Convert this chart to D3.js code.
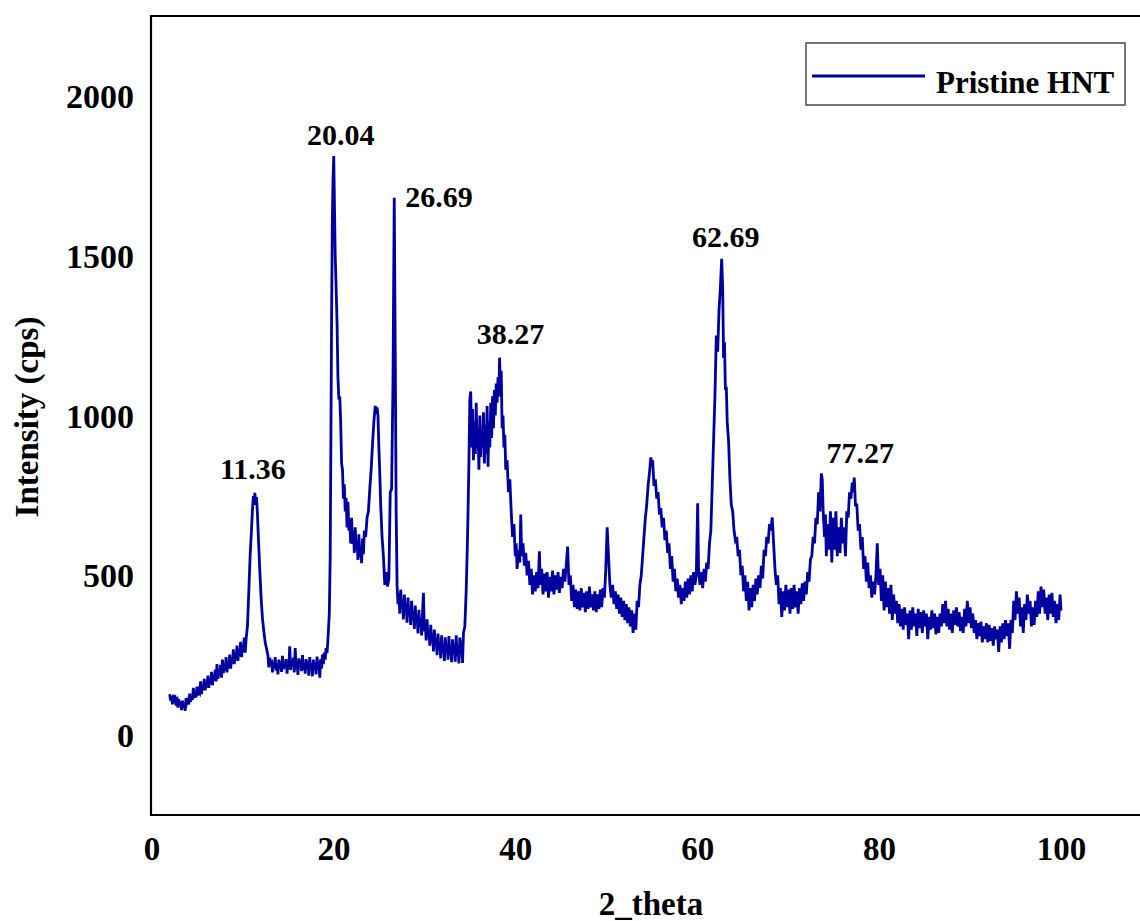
<!DOCTYPE html>
<html>
<head>
<meta charset="utf-8">
<script src="https://cdn.jsdelivr.net/npm/d3@7"></script>
<style>
  html, body { margin: 0; padding: 0; background: #fff; }
  svg { display: block; }
  text { font-family: "Liberation Serif", "Times New Roman", serif; font-weight: bold; fill: #000; }
</style>
</head>
<body>
<svg id="chart" width="1140" height="921"></svg>
<script>
// XRD scan of pristine halloysite nanotubes: [2θ (deg), intensity (cps)]
const scanLow = [
  [2.0,128],[2.1,108],[2.2,122],[2.3,96],[2.4,126],[2.5,110],[2.6,115],[2.7,92],[2.8,120],[2.9,86],
  [3.0,112],[3.1,94],[3.2,104],[3.3,78],[3.4,108],[3.5,84],[3.6,98],[3.7,76],[3.8,116],[3.9,100],
  [4.0,108],[4.1,96],[4.2,130],[4.3,104],[4.4,122],[4.5,110],[4.6,148],[4.7,116],[4.8,132],[4.9,118],
  [5.0,152],[5.1,124],[5.2,140],[5.3,134],[5.4,168],[5.5,128],[5.6,150],[5.7,142],[5.8,176],[5.9,140],
  [6.0,162],[6.1,150],[6.2,186],[6.3,148],[6.4,172],[6.5,160],[6.6,198],[6.7,156],[6.8,184],[6.9,172],
  [7.0,204],[7.1,168],[7.2,222],[7.3,176],[7.4,196],[7.5,188],[7.6,220],[7.7,180],[7.8,236],[7.9,194],
  [8.0,214],[8.1,202],[8.2,244],[8.3,196],[8.4,226],[8.5,210],[8.6,252],[8.7,208],[8.8,238],[8.9,224],
  [9.0,268],[9.1,222],[9.2,250],[9.3,236],[9.4,280],[9.5,232],[9.6,262],[9.7,248],[9.8,292],[9.9,244],
  [10.0,276],[10.1,262],[10.2,305],[10.3,258],[10.4,300],[10.55,340],[10.7,450],[10.85,565],[11.0,645],[11.1,705],
  [11.2,748],[11.28,720],[11.36,758],[11.45,728],[11.55,745],[11.65,690],[11.75,620],[11.9,520],[12.05,430],[12.2,365],
  [12.35,325],[12.5,290],[12.65,270],[12.8,250],[12.9,212],[13.0,242],[13.1,218],[13.2,236],[13.3,196],[13.4,228],
  [13.5,210],[13.6,244],[13.7,202],[13.8,222],[13.9,190],[14.0,236],[14.1,214],[14.2,230],[14.3,198],[14.4,248],
  [14.5,206],[14.6,224],[14.7,212],[14.8,238],[14.9,192],[15.0,226],[15.1,208],[15.2,278],[15.3,204],[15.4,232],
  [15.5,216],[15.6,242],[15.7,196],[15.8,272],[15.9,210],[16.0,228],[16.1,188],[16.2,240],[16.3,214],[16.4,234],
  [16.5,200],[16.6,250],[16.7,204],[16.8,226],[16.9,192],[17.0,238],[17.1,210],[17.2,230],[17.3,186],[17.4,244],
  [17.5,206],[17.6,224],[17.7,184],[17.8,236],[17.9,212],[18.0,228],[18.1,190],[18.2,246],[18.3,204],[18.4,230],
  [18.5,180],[18.6,238],[18.7,208],[18.8,252],[18.9,222],[19.0,258],[19.1,236],[19.2,272],[19.3,256],[19.4,300]
];

const scanMid = [
  [19.55,380],[19.65,560],[19.72,900],[19.8,1300],[19.88,1600],[19.96,1740],[20.04,1812],[20.12,1650],[20.2,1500],[20.3,1400],
  [20.4,1290],[20.5,1120],[20.6,1050],[20.7,1060],[20.8,980],[20.9,850],[21.0,830],[21.1,740],[21.2,785],[21.3,700],
  [21.4,742],[21.5,650],[21.6,730],[21.7,640],[21.8,672],[21.9,600],[22.0,680],[22.1,598],[22.2,640],[22.3,570],
  [22.4,650],[22.5,580],[22.6,610],[22.7,548],[22.8,628],[22.9,556],[23.0,590],[23.1,538],[23.2,615],[23.3,566],
  [23.4,640],[23.55,620],[23.7,680],[23.85,700],[24.0,770],[24.15,830],[24.3,910],[24.45,980],[24.6,1030],[24.7,1005],
  [24.8,1025],[24.9,1000],[25.0,900],[25.1,820],[25.2,720],[25.35,620],[25.5,560],[25.65,470],[25.8,510],[25.95,465],
  [26.1,490],[26.25,760],[26.4,770],[26.55,1100],[26.69,1681],[26.8,1200],[26.9,700],[27.0,470],[27.1,410],[27.2,445],
  [27.3,380],[27.4,455],[27.5,395],[27.6,420],[27.7,362],[27.8,440],[27.9,385],[28.0,410],[28.1,352],[28.2,430],
  [28.3,372],[28.4,398],[28.5,345],[28.6,420],[28.7,360],[28.8,388],[28.9,332],[29.0,405],[29.1,350],[29.2,376],
  [29.3,318],[29.4,392],[29.5,340],[29.6,366],[29.7,312],[29.8,380],[29.9,445],[30.0,325],[30.1,350],[30.2,296],
  [30.3,362],[30.4,305],[30.5,332],[30.6,280],[30.7,345],[30.8,290],[30.9,318],[31.0,262],[31.1,330],[31.2,276],
  [31.3,300],[31.4,250],[31.5,318],[31.6,268],[31.7,290],[31.8,240],[31.9,312],[32.0,258],[32.1,284],[32.2,232],
  [32.3,306],[32.4,262],[32.5,280],[32.6,236],[32.7,310],[32.8,250],[32.9,278],[33.0,228],[33.1,300],[33.2,256],
  [33.3,286],[33.4,230],[33.5,312],[33.6,248],[33.7,280],[33.8,224],[33.9,305],[34.0,252],[34.1,296],[34.2,226],
  [34.3,320],[34.45,340],[34.6,450],[34.75,620],[34.9,850],[35.0,1050],[35.1,1075],[35.2,900],[35.3,1020],[35.4,860],
  [35.5,980],[35.6,880],[35.7,1040],[35.8,900],[35.9,960],[36.0,830],[36.1,1000],[36.2,870],[36.3,950],[36.4,900],
  [36.5,1010],[36.6,850],[36.7,970],[36.8,880],[36.9,1030],[37.0,840],[37.1,980],[37.2,900],[37.3,1040],[37.4,930],
  [37.5,1060],[37.6,960],[37.7,1080],[37.8,1000],[37.9,1100],[38.0,1040],[38.1,1120],[38.2,1060],[38.27,1181],[38.35,1100],
  [38.45,1140],[38.55,960],[38.65,1000],[38.75,900],[38.85,940],[38.95,830],[39.1,860],[39.25,760],[39.4,800],[39.55,700],
  [39.7,620],[39.85,660],[40.0,560],[40.1,600],[40.2,520],[40.35,580],[40.5,540],[40.6,690],[40.7,560],[40.85,600],
  [41.0,530],[41.15,570],[41.3,500],[41.45,545],[41.6,470],[41.75,520],[41.9,440],[42.05,500],[42.2,450],[42.35,510],
  [42.5,460],[42.65,575],[42.75,470],[42.9,520],[43.05,440],[43.2,505],[43.35,450],[43.5,510],[43.65,430],[43.8,495],
  [43.95,450],[44.1,515],[44.25,440],[44.4,500],[44.55,455],[44.7,510],[44.85,445],[45.0,495],[45.15,460],[45.3,520],
  [45.45,480],[45.6,530],[45.75,590],[45.9,470],[46.05,500],[46.2,420],[46.35,470],[46.5,400],[46.65,455],[46.8,395],
  [46.95,450],[47.1,390],[47.25,460],[47.4,400],[47.55,445],[47.7,385],[47.85,450],[48.0,395],[48.15,465],[48.3,400],
  [48.45,440],[48.6,390],[48.75,450],[48.9,385],[49.05,440],[49.2,395],[49.35,455],[49.5,400],[49.65,460],[49.8,430]
];

const scanHigh = [
  [49.95,520],[50.1,650],[50.25,560],[50.4,470],[50.55,430],[50.7,470],[50.85,410],[51.0,450],[51.15,395],[51.3,440],
  [51.45,380],[51.6,430],[51.75,370],[51.9,420],[52.05,360],[52.2,410],[52.35,350],[52.5,400],[52.65,340],[52.8,390],
  [52.95,320],[53.1,380],[53.25,330],[53.4,420],[53.55,400],[53.7,470],[53.85,500],[54.0,560],[54.15,620],[54.3,680],
  [54.45,720],[54.6,780],[54.75,820],[54.9,869],[55.0,850],[55.1,860],[55.25,780],[55.4,800],[55.55,740],[55.7,760],
  [55.85,690],[56.0,710],[56.15,650],[56.3,680],[56.45,610],[56.6,640],[56.75,570],[56.9,600],[57.05,520],[57.2,560],
  [57.35,480],[57.5,520],[57.65,450],[57.8,490],[57.95,430],[58.1,470],[58.25,410],[58.4,460],[58.55,420],[58.7,480],
  [58.85,430],[59.0,490],[59.15,440],[59.3,500],[59.45,450],[59.6,510],[59.75,470],[59.9,500],[60.05,725],[60.15,520],
  [60.3,470],[60.45,510],[60.6,460],[60.75,520],[60.9,480],[61.05,540],[61.2,520],[61.35,600],[61.5,640],[61.65,780],
  [61.8,920],[61.95,1060],[62.1,1250],[62.25,1200],[62.4,1330],[62.55,1400],[62.69,1490],[62.8,1400],[62.9,1180],[63.0,1230],
  [63.1,1080],[63.2,1090],[63.3,980],[63.45,920],[63.6,800],[63.75,720],[63.9,700],[64.05,640],[64.2,610],[64.35,620],
  [64.5,560],[64.65,580],[64.8,500],[64.95,530],[65.1,450],[65.25,500],[65.4,420],[65.55,480],[65.7,390],[65.85,460],
  [66.0,400],[66.15,470],[66.3,420],[66.45,490],[66.6,440],[66.75,500],[66.9,460],[67.05,530],[67.2,490],[67.35,580],
  [67.5,560],[67.65,620],[67.8,600],[67.95,660],[68.1,640],[68.25,681],[68.4,600],[68.55,520],[68.7,470],[68.85,500],
  [69.0,410],[69.15,460],[69.3,370],[69.45,450],[69.6,390],[69.75,470],[69.9,400],[70.05,455],[70.2,380],[70.35,460],
  [70.5,395],[70.65,470],[70.8,400],[70.95,450],[71.1,380],[71.25,460],[71.4,410],[71.55,475],[71.7,420],[71.85,480],
  [72.0,440],[72.15,510],[72.3,480],[72.45,550],[72.6,560],[72.75,620],[72.9,600],[73.05,680],[73.2,660],[73.35,760],
  [73.5,700],[73.65,819],[73.75,800],[73.85,700],[74.0,620],[74.1,690],[74.2,560],[74.35,660],[74.5,580],[74.65,700],
  [74.8,540],[74.95,680],[75.1,580],[75.25,700],[75.4,560],[75.55,650],[75.7,570],[75.85,680],[76.0,600],[76.15,650],
  [76.3,560],[76.45,700],[76.6,680],[76.75,760],[76.9,740],[77.05,790],[77.15,760],[77.27,806],[77.4,720],[77.55,720],
  [77.7,640],[77.85,660],[78.0,580],[78.15,620],[78.3,520],[78.45,560],[78.6,480],[78.75,540],[78.9,460],[79.05,500],
  [79.2,430],[79.35,480],[79.5,440],[79.65,500],[79.8,600],[79.95,470],[80.1,520],[80.25,420],[80.4,500],[80.55,390],
  [80.7,480],[80.85,400],[81.0,460],[81.15,380],[81.3,470],[81.45,360],[81.6,440],[81.75,380],[81.9,420],[82.05,350],
  [82.2,410],[82.35,340],[82.5,395],[82.65,330],[82.8,400],[82.95,345],[83.1,380],[83.25,300],[83.4,390],[83.55,330],
  [83.7,400],[83.85,340],[84.0,380],[84.15,310],[84.3,395],[84.45,335],[84.6,385],[84.75,320],[84.9,390],[85.05,340],
  [85.2,380],[85.35,300],[85.5,370],[85.65,330],[85.8,390],[85.95,335],[86.1,380],[86.25,315],[86.4,370],[86.55,320],
  [86.7,380],[86.85,340],[87.0,410],[87.15,350],[87.3,420],[87.45,340],[87.6,395],[87.75,330],[87.9,380],[88.05,320],
  [88.2,390],[88.35,345],[88.5,400],[88.65,340],[88.8,385],[88.95,325],[89.1,370],[89.25,320],[89.4,395],[89.55,340],
  [89.7,420],[89.85,350],[90.0,400],[90.15,335],[90.3,380],[90.45,320],[90.6,360],[90.75,300],[90.9,350],[91.05,310],
  [91.2,355],[91.35,290],[91.5,340],[91.65,300],[91.8,350],[91.95,290],[92.1,345],[92.25,295],[92.4,335],[92.55,280],
  [92.7,340],[92.85,300],[93.0,330],[93.15,260],[93.3,340],[93.45,290],[93.6,350],[93.75,300],[93.9,360],[94.05,310],
  [94.2,350],[94.35,270],[94.5,360],[94.65,320],[94.8,420],[94.95,360],[95.1,450],[95.25,380],[95.4,430],[95.55,340],
  [95.7,400],[95.85,320],[96.0,410],[96.15,360],[96.3,440],[96.45,380],[96.6,420],[96.75,340],[96.9,400],[97.05,345],
  [97.2,420],[97.35,370],[97.5,450],[97.65,380],[97.8,465],[97.95,400],[98.1,455],[98.25,380],[98.4,430],[98.55,360],
  [98.7,440],[98.85,380],[99.0,445],[99.15,370],[99.3,420],[99.45,350],[99.6,410],[99.75,360],[99.9,440],[100.0,390]
];

// Indexed reflections (2θ labels) and axis ticks
const peakLabels = ["11.36", "20.04", "26.69", "38.27", "62.69", "77.27"];
const xTicks = [0, 20, 40, 60, 80, 100];
const yTicks = [0, 500, 1000, 1500, 2000];
const seriesName = "Pristine HNT";
const xTitle = "2_theta";
const yTitle = "Intensity (cps)";

const scan = scanLow.concat(scanMid, scanHigh);

const plot = { left: 151, top: 16, right: 1140, bottom: 815 };
const lineColor = "#0000A0";
const fontStack = '"Liberation Serif", "Times New Roman", serif';

const svg = d3.select("#chart");

const x = d3.scaleLinear().domain([0, 100]).range([151.5, 1061]);
const y = d3.scaleLinear().domain([-250, 2250]).range([plot.bottom, plot.top]);

// clip the trace to the plotting frame
svg.append("clipPath").attr("id", "plotClip")
  .append("rect")
  .attr("x", plot.left).attr("y", plot.top)
  .attr("width", plot.right - plot.left).attr("height", plot.bottom - plot.top);

// diffraction trace
const line = d3.line().x(d => x(d[0])).y(d => y(d[1]));
svg.append("path")
  .datum(scan)
  .attr("clip-path", "url(#plotClip)")
  .attr("d", line)
  .attr("fill", "none")
  .attr("stroke", lineColor)
  .attr("stroke-width", 2.8)
  .attr("stroke-linejoin", "miter");

// frame: top, left and bottom edges
svg.append("path")
  .attr("d", `M${plot.right},${plot.top}H${plot.left}V${plot.bottom}H${plot.right}`)
  .attr("fill", "none").attr("stroke", "#000").attr("stroke-width", 2.2);

// x axis labels
const xAxis = d3.axisBottom(x).tickValues(xTicks).tickSize(0).tickPadding(0).tickFormat(d3.format("d"));
const gx = svg.append("g").attr("transform", `translate(0,${plot.bottom})`).call(xAxis);
gx.select(".domain").remove();
gx.selectAll("text")
  .attr("y", 45).attr("dy", 0)
  .style("font-family", fontStack)
  .style("font-weight", "bold").style("font-size", "33px").attr("fill", "#000");

// y axis labels
const yAxis = d3.axisLeft(y).tickValues(yTicks).tickSize(0).tickPadding(0).tickFormat(d3.format("d"));
const gy = svg.append("g").attr("transform", `translate(${plot.left},0)`).call(yAxis);
gy.select(".domain").remove();
gy.selectAll("text")
  .attr("x", -17).attr("dy", "0.34em")
  .style("font-family", fontStack)
  .style("font-weight", "bold").style("font-size", "34px").attr("fill", "#000");

// axis titles
svg.append("text")
  .attr("x", 651).attr("y", 915)
  .attr("text-anchor", "middle")
  .style("font-size", "33px")
  .text(xTitle);

svg.append("text")
  .attr("transform", "translate(38,417) rotate(-90)")
  .attr("text-anchor", "middle")
  .style("font-size", "33px")
  .text(yTitle);

// peak annotations: placed over the maximum of each labelled reflection
const labelLayout = [
  { dx: -2, dy: -14, anchor: "middle" },
  { dx: 7,  dy: -11, anchor: "middle" },
  { dx: 11, dy: 9,   anchor: "start" },
  { dx: 11, dy: -14, anchor: "middle" },
  { dx: 4,  dy: -12, anchor: "middle" },
  { dx: 6,  dy: -15, anchor: "middle" }
];
peakLabels.forEach((lab, i) => {
  const pos = +lab;
  const near = scan.filter(d => Math.abs(d[0] - pos) < 0.01);
  const top = near.length ? near[0][1] : d3.max(scan.filter(d => Math.abs(d[0] - pos) < 0.3), d => d[1]);
  const L = labelLayout[i];
  svg.append("text")
    .attr("x", x(pos) + L.dx)
    .attr("y", y(top) + L.dy)
    .attr("text-anchor", L.anchor)
    .style("font-size", "30px")
    .text(lab);
});

// legend
const lg = svg.append("g");
lg.append("rect")
  .attr("x", 806).attr("y", 43).attr("width", 319).attr("height", 62)
  .attr("fill", "#fff").attr("stroke", "#555").attr("stroke-width", 1.6);
lg.append("line")
  .attr("x1", 812).attr("x2", 925).attr("y1", 76).attr("y2", 76)
  .attr("stroke", lineColor).attr("stroke-width", 2.8);
lg.append("text")
  .attr("x", 936).attr("y", 93)
  .style("font-size", "31px")
  .text(seriesName);
</script>
</body>
</html>
